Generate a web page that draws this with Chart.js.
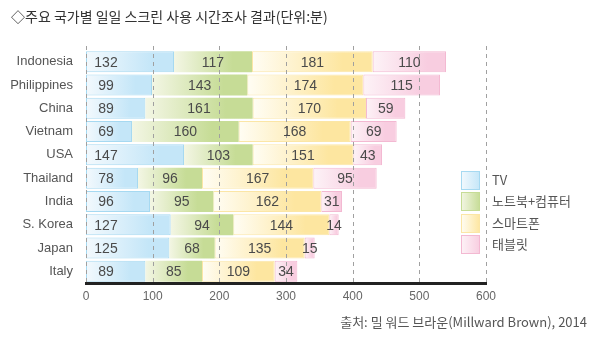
<!DOCTYPE html>
<html>
<head>
<meta charset="utf-8">
<script src="https://cdn.jsdelivr.net/npm/chart.js@4"></script>
<style>
  html, body { margin: 0; padding: 0; background: #fff; }
  #wrap { width: 600px; height: 341px; position: relative; }
</style>
</head>
<body>
<div id="wrap"><canvas id="c" width="600" height="341"></canvas></div>
<script>
const titleText = '◇주요 국가별 일일 스크린 사용 시간조사 결과(단위:분)';
const sourceText = '출처: 밀 워드 브라운(Millward Brown), 2014';
const categories = ['Indonesia', 'Philippines', 'China', 'Vietnam', 'USA', 'Thailand', 'India', 'S. Korea', 'Japan', 'Italy'];
const seriesNames = ['TV', '노트북+컴퓨터', '스마트폰', '태블릿'];
const tvValues = [132, 99, 89, 69, 147, 78, 96, 127, 125, 89];
const laptopValues = [117, 143, 161, 160, 103, 96, 95, 94, 68, 85];
const phoneValues = [181, 174, 170, 168, 151, 167, 162, 144, 135, 109];
const tabletValues = [110, 115, 59, 69, 43, 95, 31, 14, 15, 34];
const xTicks = [0, 100, 200, 300, 400, 500, 600];

const series = [tvValues, laptopValues, phoneValues, tabletValues];
const palette = [
  { from: '#f3f9fd', to: '#c4e6f8', border: '#a6d9f1' },
  { from: '#f3f6e4', to: '#c6dc96', border: '#c6dc96' },
  { from: '#fffdf4', to: '#fde6a0', border: '#fbe6a6' },
  { from: '#fdf3f7', to: '#f8cde0', border: '#f3b9d2' }
];

function makeGradient(context, dsIndex) {
  const chart = context.chart;
  const p = palette[dsIndex];
  if (!chart.chartArea || context.type !== 'data' || !chart.scales.x) return p.to;
  const i = context.dataIndex;
  let start = 0;
  for (let k = 0; k < dsIndex; k++) start += series[k][i];
  const xs = chart.scales.x;
  const x0 = xs.getPixelForValue(start);
  const x1 = xs.getPixelForValue(start + series[dsIndex][i]);
  if (!isFinite(x0) || !isFinite(x1) || x1 <= x0) return p.to;
  const g = chart.ctx.createLinearGradient(x0, 0, x1, 0);
  g.addColorStop(0, p.from);
  g.addColorStop(0.75, p.to);
  g.addColorStop(1, p.to);
  return g;
}

const datasets = series.map((vals, d) => ({
  label: seriesNames[d],
  data: vals,
  backgroundColor: (ctx) => makeGradient(ctx, d),
  borderColor: palette[d].border,
  borderWidth: d === 1 ? 0 : 1,
  borderSkipped: false,
  barPercentage: 0.9,
  categoryPercentage: 1.0
}));

const gridPlugin = {
  id: 'dashGrid',
  afterDatasetsDraw(chart) {
    const ctx = chart.ctx, xs = chart.scales.x, area = chart.chartArea;
    ctx.save();
    ctx.strokeStyle = '#a0a0a0';
    ctx.lineWidth = 1;
    ctx.setLineDash([4, 4]);
    xTicks.forEach(v => {
      const x = Math.round(xs.getPixelForValue(v)) + 0.5;
      ctx.beginPath();
      ctx.moveTo(x, area.top - 4);
      ctx.lineTo(x, area.bottom);
      ctx.stroke();
    });
    ctx.restore();
  }
};

const labelPlugin = {
  id: 'valueLabels',
  afterDatasetsDraw(chart) {
    const ctx = chart.ctx;
    ctx.save();
    ctx.font = '14px "Liberation Sans", Arial, sans-serif';
    ctx.fillStyle = '#4a4a4a';
    ctx.textBaseline = 'middle';
    ctx.textAlign = 'center';
    chart.data.datasets.forEach((ds, d) => {
      const meta = chart.getDatasetMeta(d);
      meta.data.forEach((bar, i) => {
        const left = bar.base, right = bar.x;
        let cx = (left + right) / 2;
        if (d === 0) cx = left + 20;
        ctx.fillText(String(ds.data[i]), cx, bar.y + 1);
      });
    });
    ctx.restore();
  }
};

const textPlugin = {
  id: 'texts',
  afterDraw(chart) {
    const ctx = chart.ctx;
    ctx.save();
    ctx.fillStyle = '#333';
    ctx.font = '14px "Noto Sans CJK KR", sans-serif';
    ctx.textBaseline = 'alphabetic';
    ctx.textAlign = 'left';
    ctx.fillText(titleText, 11, 22);
    ctx.fillStyle = '#555';
    ctx.font = '13px "Noto Sans CJK KR", sans-serif';
    ctx.textAlign = 'right';
    ctx.textBaseline = 'middle';
    ctx.fillText(sourceText, 587, 322);
    // legend
    const bx = 461, bw = 19, bh = 19, top = 171, pitch = 21.3;
    seriesNames.forEach((name, d) => {
      const p = palette[d];
      const y = Math.round(top + d * pitch);
      const g = ctx.createLinearGradient(bx, 0, bx + bw, 0);
      g.addColorStop(0, p.from);
      g.addColorStop(1, p.to);
      ctx.fillStyle = g;
      ctx.fillRect(bx, y, bw, bh);
      ctx.strokeStyle = p.border;
      ctx.lineWidth = 1;
      ctx.strokeRect(bx + 0.5, y + 0.5, bw - 1, bh - 1);
      ctx.fillStyle = '#555';
      ctx.textAlign = 'left';
      ctx.font = '13px "Noto Sans CJK KR", sans-serif';
      ctx.fillText(name, 492, y + bh / 2);
    });
    ctx.restore();
  }
};

new Chart(document.getElementById('c'), {
  type: 'bar',
  data: { labels: categories, datasets },
  options: {
    indexAxis: 'y',
    responsive: false,
    animation: false,
    devicePixelRatio: 1,
    layout: { padding: { top: 50, right: 114, bottom: 0, left: 0 } },
    plugins: { legend: { display: false }, title: { display: false }, tooltip: { enabled: false } },
    scales: {
      x: {
        type: 'linear',
        stacked: true,
        min: 0, max: 600,
        afterBuildTicks: (s) => { s.ticks = xTicks.map(v => ({ value: v })); },
        afterFit: (s) => { s.height = 58; },
        grid: { display: false, drawTicks: false },
        border: { display: true, color: '#222', width: 3 },
        ticks: { color: '#666', font: { size: 12, family: '"Liberation Sans", Arial, sans-serif' }, padding: 6 }
      },
      y: {
        stacked: true,
        afterFit: (s) => { s.width = 86; },
        grid: { display: false, drawTicks: false },
        border: { display: false },
        ticks: { color: '#555', font: { size: 13, family: '"Liberation Sans", Arial, sans-serif' }, padding: 13 }
      }
    }
  },
  plugins: [gridPlugin, labelPlugin, textPlugin]
});
</script>
</body>
</html>
